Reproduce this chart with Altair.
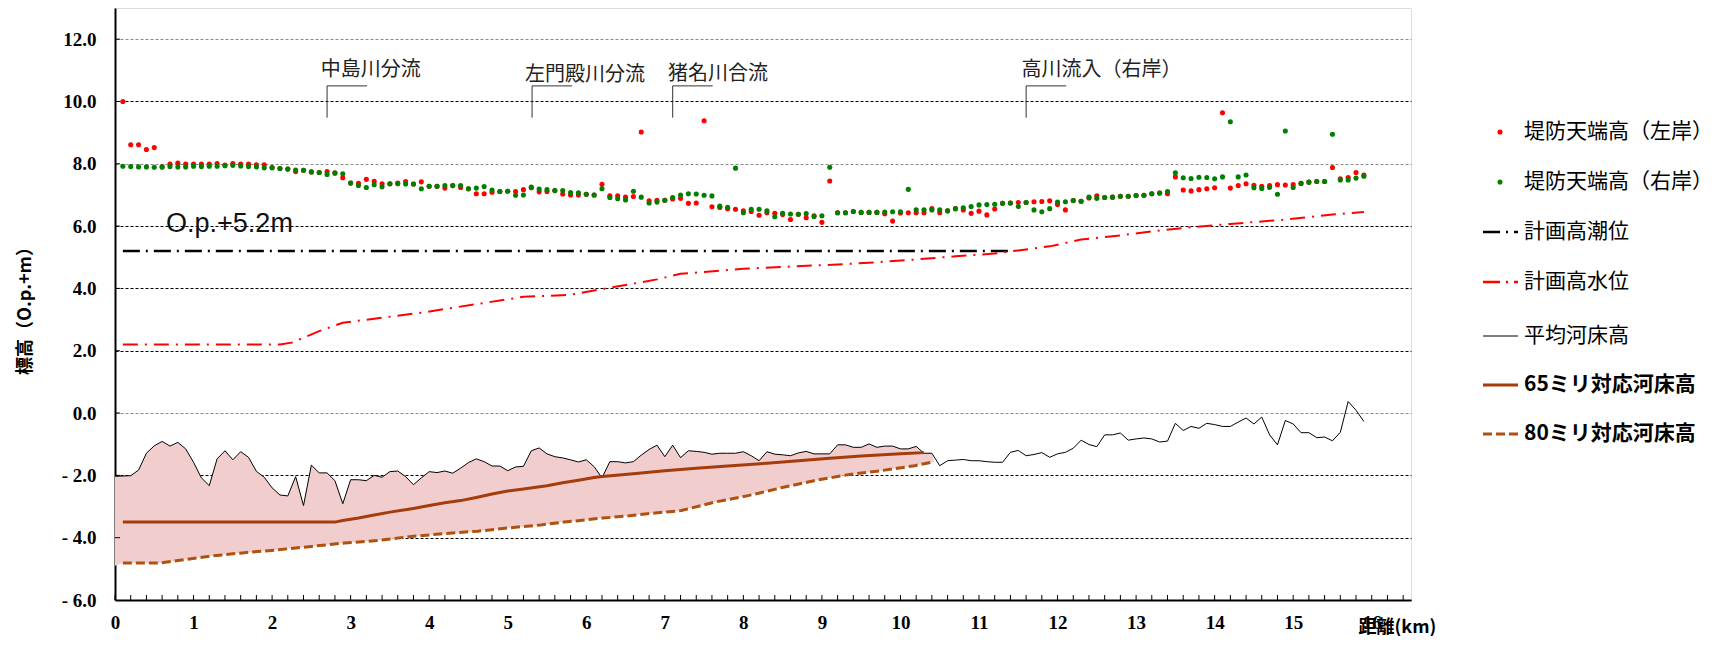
import altair as alt
import pandas as pd

# ---------------- data ----------------
BED_KM = [round(i * 0.1, 1) for i in range(160)]          # 0.0 .. 15.9 km
BED = [-2.03, -2.02, -2.01, -1.83, -1.29, -1.05, -0.91, -1.06, -0.94, -1.15,
       -1.58, -2.08, -2.33, -1.47, -1.21, -1.50, -1.24, -1.42, -1.87, -2.06,
       -2.40, -2.63, -2.66, -2.04, -2.97, -1.67, -1.92, -1.92, -2.17, -2.91,
       -2.14, -2.14, -2.17, -2.00, -2.06, -1.88, -1.86, -2.04, -2.30, -2.08,
       -1.88, -1.91, -1.86, -1.93, -1.77, -1.59, -1.47, -1.56, -1.70, -1.70,
       -1.85, -1.73, -1.71, -1.21, -1.12, -1.31, -1.40, -1.44, -1.50, -1.57,
       -1.50, -1.72, -2.08, -1.56, -1.56, -1.60, -1.56, -1.35, -1.17, -1.03,
       -1.40, -1.03, -1.43, -1.21, -1.23, -1.26, -1.32, -1.29, -1.29, -1.29,
       -1.24, -1.37, -1.53, -1.24, -1.32, -1.34, -1.37, -1.28, -1.23, -1.31,
       -1.31, -1.31, -1.02, -1.02, -1.10, -1.10, -0.99, -1.10, -1.06, -1.06,
       -1.15, -1.15, -1.07, -1.29, -1.29, -1.69, -1.53, -1.51, -1.49, -1.53,
       -1.53, -1.56, -1.58, -1.58, -1.26, -1.20, -1.37, -1.33, -1.27, -1.42,
       -1.31, -1.26, -1.13, -0.87, -1.01, -1.08, -0.70, -0.70, -0.64, -0.87,
       -0.83, -0.80, -0.83, -0.93, -0.90, -0.33, -0.56, -0.43, -0.49, -0.33,
       -0.37, -0.43, -0.43, -0.29, -0.16, -0.35, -0.13, -0.70, -1.02, -0.24,
       -0.35, -0.63, -0.63, -0.79, -0.77, -0.89, -0.62, 0.37, 0.09, -0.27]

BANK_KM = [round(i * 0.1, 1) for i in range(1, 160)]      # 0.1 .. 15.9 km
LEFT_BANK = [10.0, 8.61, 8.61, 8.46, 8.52, 7.90, 7.99, 8.02, 7.99, 7.99,
             7.99, 7.99, 8.01, 7.96, 8.01, 7.99, 7.99, 7.97, 7.97, 7.88,
             7.85, 7.83, 7.75, 7.79, 7.74, 7.72, 7.75, 7.71, 7.55, 7.38,
             7.37, 7.50, 7.44, 7.36, 7.36, 7.38, 7.43, 7.35, 7.42, 7.28,
             7.28, 7.22, 7.30, 7.24, 7.20, 7.04, 7.04, 7.09, 7.11, 7.12,
             7.11, 7.17, 7.23, 7.10, 7.11, 7.14, 7.03, 7.00, 7.00, 7.02,
             7.00, 7.34, 6.97, 6.97, 6.93, 6.95, 9.02, 6.81, 6.83, 6.83,
             6.87, 6.89, 6.73, 6.74, 9.38, 6.62, 6.60, 6.56, 6.54, 6.49,
             6.47, 6.35, 6.43, 6.41, 6.37, 6.21, 6.38, 6.27, 6.33, 6.12,
             7.45, 6.43, 6.43, 6.47, 6.44, 6.44, 6.44, 6.40, 6.16, 6.42,
             6.43, 6.43, 6.43, 6.56, 6.43, 6.49, 6.56, 6.52, 6.41, 6.48,
             6.36, 6.55, 6.73, 6.74, 6.76, 6.76, 6.78, 6.79, 6.81, 6.69,
             6.52, 6.82, 6.80, 6.90, 6.97, 6.92, 6.93, 6.96, 6.96, 6.98,
             6.99, 7.04, 7.06, 7.04, 7.58, 7.16, 7.13, 7.17, 7.20, 7.23,
             9.64, 7.22, 7.30, 7.36, 7.31, 7.28, 7.30, 7.33, 7.32, 7.33,
             7.37, 7.41, 7.43, 7.43, 7.88, 7.52, 7.56, 7.72, 7.64]
RIGHT_BANK = [7.92, 7.91, 7.90, 7.90, 7.89, 7.90, 7.91, 7.90, 7.90, 7.92,
              7.91, 7.92, 7.92, 7.94, 7.95, 7.93, 7.91, 7.90, 7.87, 7.87,
              7.85, 7.83, 7.80, 7.79, 7.74, 7.72, 7.66, 7.70, 7.68, 7.38,
              7.30, 7.24, 7.33, 7.26, 7.36, 7.36, 7.35, 7.35, 7.20, 7.28,
              7.28, 7.30, 7.30, 7.30, 7.20, 7.22, 7.27, 7.16, 7.11, 7.12,
              6.99, 7.00, 7.25, 7.19, 7.17, 7.14, 7.14, 7.08, 7.07, 7.02,
              7.00, 7.20, 6.92, 6.88, 6.84, 7.12, 6.93, 6.74, 6.77, 6.83,
              6.92, 7.00, 7.04, 7.03, 6.99, 6.97, 6.64, 6.60, 7.86, 6.43,
              6.54, 6.54, 6.49, 6.30, 6.41, 6.39, 6.38, 6.40, 6.31, 6.33,
              7.89, 6.43, 6.43, 6.47, 6.44, 6.44, 6.44, 6.45, 6.46, 6.46,
              7.18, 6.52, 6.52, 6.52, 6.52, 6.49, 6.56, 6.59, 6.63, 6.68,
              6.69, 6.70, 6.73, 6.74, 6.63, 6.76, 6.52, 6.46, 6.56, 6.77,
              6.78, 6.82, 6.80, 6.93, 6.89, 6.92, 6.93, 6.96, 6.96, 6.98,
              6.99, 7.04, 7.06, 7.11, 7.71, 7.55, 7.53, 7.57, 7.56, 7.52,
              7.58, 9.35, 7.58, 7.64, 7.23, 7.21, 7.24, 7.02, 9.05, 7.24,
              7.37, 7.41, 7.43, 7.43, 8.95, 7.48, 7.48, 7.54, 7.60]

MM65_KM = [0.1, 2.8, 2.9, 3.1, 3.3, 3.5, 3.8, 4.0, 4.2, 4.4, 4.6, 4.8, 5.0, 5.2, 5.5,
           5.7, 5.9, 6.1, 6.2, 6.6, 7.0, 7.4, 7.8, 8.3, 8.7, 9.1, 9.5, 10.0, 10.3]
MM65 = [-3.5, -3.5, -3.45, -3.37, -3.27, -3.18, -3.06, -2.97, -2.88, -2.81, -2.71, -2.60,
        -2.50, -2.44, -2.33, -2.24, -2.16, -2.07, -2.04, -1.95, -1.85, -1.77, -1.70,
        -1.61, -1.53, -1.45, -1.38, -1.31, -1.27]

MM80_KM = [0.1, 0.59, 0.8, 1.22, 1.65, 2.07, 2.5, 2.92, 3.35, 3.77, 4.19, 4.62, 5.04,
           5.42, 5.72, 6.21, 6.57, 6.78, 7.21, 7.63, 8.06, 8.48, 8.9, 9.33, 9.75, 10.18, 10.43]
MM80 = [-4.81, -4.81, -4.73, -4.59, -4.48, -4.39, -4.28, -4.17, -4.09, -3.96, -3.87,
        -3.79, -3.68, -3.59, -3.50, -3.37, -3.29, -3.23, -3.13, -2.86, -2.65, -2.40,
        -2.17, -1.98, -1.85, -1.69, -1.56]

HWL_KM = [0.1, 2.1, 2.25, 2.6, 2.9, 3.9, 5.2, 5.5, 5.8, 6.3, 6.9, 7.2, 7.5, 8.0, 8.5,
          9.2, 9.7, 10.2, 10.7, 11.2, 11.5, 11.9, 12.3, 12.8, 13.2, 13.6, 14.2, 14.9, 15.5, 15.9]
HWL = [2.2, 2.2, 2.26, 2.63, 2.9, 3.22, 3.73, 3.76, 3.8, 4.02, 4.29, 4.47, 4.53, 4.63,
       4.69, 4.77, 4.84, 4.93, 5.03, 5.12, 5.22, 5.35, 5.57, 5.70, 5.83, 5.94, 6.07,
       6.21, 6.37, 6.45]

HHWL_KM = [0.1, 11.4]
HHWL = [5.2, 5.2]

FILL_END_KM = 10.4
FILL_CORNER = (0.0, -4.9)

ANN_TEXT = ["中島川分流", "左門殿川分流", "猪名川合流", "高川流入（右岸）"]
ANN_TEXT_KM = [2.62, 5.22, 7.04, 11.54]
ANN_TEXT_VAL = [11.02, 10.86, 10.89, 11.02]
ANN_LEADER_KM = [2.70, 5.31, 7.10, 11.60]
LEADER_TOP = 10.5
LEADER_BOTTOM = 9.48
LEADER_LEN = 0.51

OP_LABEL = "O.p.+5.2m"
OP_KM, OP_VAL = 0.65, 6.06

LEGEND_LABELS = ["堤防天端高（左岸）", "堤防天端高（右岸）", "計画高潮位", "計画高水位",
                 "平均河床高", "65ミリ対応河床高", "80ミリ対応河床高"]

Y_TICKS = list(range(-6, 13, 2))
X_TICKS = list(range(0, 17))
MINOR_X = [round(i * 0.2, 1) for i in range(0, 83)]

# ---------------- layout / style ----------------
W, H = 1296, 592
RED = "#ff0000"
GREEN = "#008000"
BROWN65 = "#a53c0c"
BROWN80 = "#b0520f"
PINK = "#f2cdcd"
JP = "Noto Sans CJK JP"
SERIF = "Liberation Serif"

xs = alt.Scale(domain=[0, 16.5], nice=False, zero=False)
ys = alt.Scale(domain=[-6, 13], nice=False, zero=False)

x_axis = alt.Axis(values=X_TICKS, format="d", grid=False, ticks=False,
                  labelFont=SERIF, labelFontWeight="bold", labelFontSize=19,
                  labelColor="black", labelPadding=13, labelFlush=False,
                  labelOverlap=False, domainColor="black", domainWidth=2,
                  title="距離(km)", titleX=1243, titleY=27, titleAlign="left",
                  titleBaseline="middle", titleFont=JP, titleFontWeight="bold",
                  titleFontSize=18, titleColor="black")
y_axis = alt.Axis(values=Y_TICKS, grid=True,
                  gridColor=alt.condition("datum.value == 0 || datum.value == 8 || datum.value == 12",
                                          alt.value("#8a8a8a"), alt.value("#000000")),
                  gridDash=[3, 2], gridWidth=1, ticks=False,
                  labelExpr="datum.value < 0 ? '- ' + format(-datum.value, '.1f') : format(datum.value, '.1f')",
                  labelFont=SERIF, labelFontWeight="bold", labelFontSize=19,
                  labelColor="black", labelPadding=19, domainColor="black", domainWidth=2,
                  title="標高（O.p.+m）", titleX=-90, titleY=298, titleAngle=270,
                  titleAlign="center", titleBaseline="middle", titleFont=JP,
                  titleFontWeight="bold", titleFontSize=18, titleColor="black")


def X(field="km"):
    return alt.X(f"{field}:Q", scale=xs, axis=x_axis)


def Y(field="val"):
    return alt.Y(f"{field}:Q", scale=ys, axis=y_axis)


# fill polygon between bed and 80mm line
upper = [(k, v) for k, v in zip(BED_KM, BED) if k <= FILL_END_KM]
lower = list(zip(MM80_KM, MM80))[::-1]
poly = upper + lower + [FILL_CORNER]
fill_df = pd.DataFrame({"km": [p[0] for p in poly], "val": [p[1] for p in poly],
                        "idx": list(range(len(poly)))})

fill = alt.Chart(fill_df).mark_line(fill=PINK, strokeOpacity=0, interpolate="linear").encode(
    x=X(), y=Y(), order="idx:Q")

bed = alt.Chart(pd.DataFrame({"km": BED_KM, "val": BED})).mark_line(
    color="black", strokeWidth=1).encode(x=X(), y=Y())
mm65 = alt.Chart(pd.DataFrame({"km": MM65_KM, "val": MM65})).mark_line(
    color=BROWN65, strokeWidth=3).encode(x=X(), y=Y())
mm80 = alt.Chart(pd.DataFrame({"km": MM80_KM, "val": MM80})).mark_line(
    color=BROWN80, strokeWidth=3, strokeDash=[9, 4]).encode(x=X(), y=Y())
hwl = alt.Chart(pd.DataFrame({"km": HWL_KM, "val": HWL})).mark_line(
    color=RED, strokeWidth=2, strokeDash=[15, 7, 2, 7]).encode(x=X(), y=Y())
hhwl = alt.Chart(pd.DataFrame({"km": HHWL_KM, "val": HHWL})).mark_line(
    color="black", strokeWidth=2.5, strokeDash=[17, 6, 2, 6]).encode(x=X(), y=Y())

left_pts = alt.Chart(pd.DataFrame({"km": BANK_KM, "val": LEFT_BANK})).mark_circle(
    color=RED, size=26, opacity=1).encode(x=X(), y=Y())
right_pts = alt.Chart(pd.DataFrame({"km": BANK_KM, "val": RIGHT_BANK})).mark_circle(
    color=GREEN, size=26, opacity=1).encode(x=X(), y=Y())

ann_df = pd.DataFrame({"km": ANN_TEXT_KM, "val": ANN_TEXT_VAL, "t": ANN_TEXT})
ann_text = alt.Chart(ann_df).mark_text(
    font=JP, fontSize=20, align="left", baseline="middle", color="#222222").encode(
    x=X(), y=Y(), text="t:N")
lead_df = pd.DataFrame({"km": ANN_LEADER_KM,
                        "km2": [k + LEADER_LEN for k in ANN_LEADER_KM],
                        "val": [LEADER_TOP] * 4, "val2": [LEADER_BOTTOM] * 4})
lead_v = alt.Chart(lead_df).mark_rule(color="#333333", strokeWidth=1).encode(
    x=X(), y=Y(), y2="val2:Q")
lead_h = alt.Chart(lead_df).mark_rule(color="#333333", strokeWidth=1).encode(
    x=X(), x2="km2:Q", y=Y())

op_text = alt.Chart(pd.DataFrame({"km": [OP_KM], "val": [OP_VAL], "t": [OP_LABEL]})).mark_text(
    font="Liberation Sans", fontSize=27, align="left", baseline="middle", color="#111111").encode(
    x=X(), y=Y(), text="t:N")

minor_ticks = alt.Chart(pd.DataFrame({"km": MINOR_X})).mark_rule(
    color="black", strokeWidth=1).encode(x=X(), y=alt.value(H), y2=alt.value(H - 5))
y_ticks = alt.Chart(pd.DataFrame({"val": Y_TICKS[1:]})).mark_rule(
    color="black", strokeWidth=1).encode(y=Y(), x=alt.value(0), x2=alt.value(5))

# ---------------- legend (outside plot, right) ----------------
LEG_Y = [124, 174, 224, 274, 328, 377, 426]
LEG_TX = 1409
SYM_X0, SYM_X1, SYM_DOT = 1368, 1403, 1385


def one():
    return pd.DataFrame({"a": [0]})


legend_layers = []
for i, lab in enumerate(LEGEND_LABELS):
    bold = i >= 5
    legend_layers.append(
        alt.Chart(one()).mark_text(text=lab, font=JP, fontSize=21,
                                   fontWeight="bold" if bold else "normal",
                                   align="left", baseline="middle", color="black")
        .encode(x=alt.value(LEG_TX), y=alt.value(LEG_Y[i])))
legend_layers.append(alt.Chart(one()).mark_circle(color=RED, size=26, opacity=1)
                     .encode(x=alt.value(SYM_DOT), y=alt.value(LEG_Y[0])))
legend_layers.append(alt.Chart(one()).mark_circle(color=GREEN, size=26, opacity=1)
                     .encode(x=alt.value(SYM_DOT), y=alt.value(LEG_Y[1])))
sym_styles = [
    (2, "black", 2.5, [17, 6, 2, 6]),
    (3, RED, 2.5, [17, 6, 2, 6]),
    (4, "black", 1, None),
    (5, BROWN65, 3, None),
    (6, BROWN80, 3, [9, 4]),
]
for row, col, sw, dash in sym_styles:
    kw = dict(color=col, strokeWidth=sw)
    if dash:
        kw["strokeDash"] = dash
    legend_layers.append(alt.Chart(one()).mark_rule(**kw).encode(
        x=alt.value(SYM_X0), x2=alt.value(SYM_X1), y=alt.value(LEG_Y[row])))

chart = alt.layer(
    fill, bed, mm80, mm65, hhwl, hwl, left_pts, right_pts,
    lead_v, lead_h, ann_text, op_text, minor_ticks, y_ticks,
    *legend_layers
).properties(
    width=W, height=H,
    autosize=alt.AutoSizeParams(type="none"),
    padding={"left": 107, "top": 0, "right": 305, "bottom": 36},
).configure_view(stroke="black", strokeWidth=2).configure(background="white")

chart.save("out.html", embed_options={"renderer": "svg", "actions": False})
